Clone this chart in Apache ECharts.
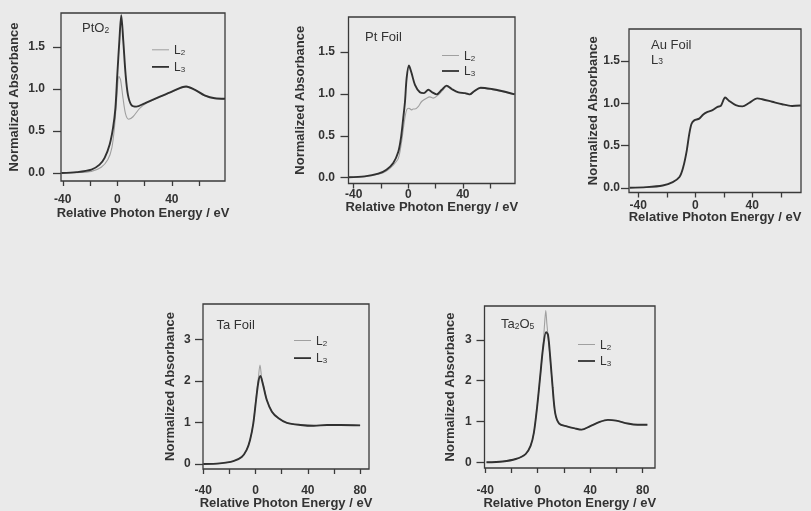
<!DOCTYPE html>
<html>
<head>
<meta charset="utf-8">
<script src="https://cdn.jsdelivr.net/npm/echarts@6/dist/echarts.min.js"></script>
<style>
html, body { margin: 0; padding: 0; background: #eaeaea; }
#chart { width: 811px; height: 511px; }
</style>
</head>
<body>
<div id="chart"></div>
<script>
// L-edge XANES spectra: [relative photon energy (eV), normalized absorbance]

const ptO2_L2 = [[-41,0.0],[-30,0.005],[-19,0.02],[-11.8,0.068],[-6.9,0.16],[-4,0.30],[-2.1,0.54],[-0.6,0.85],[1.2,1.15],[2.4,1.11],[4.2,0.89],[6.1,0.70],[8.3,0.64],[11.5,0.67],[16.4,0.77],[21.3,0.83],[30,0.895],[40,0.965],[50.5,1.025],[57,0.99],[64,0.92],[71.5,0.89],[79,0.88]];
const ptO2_L3 = [[-41,0.0],[-30,0.01],[-19,0.04],[-13,0.10],[-9.3,0.18],[-5.6,0.34],[-3.1,0.54],[-1.4,0.77],[0,1.17],[1.5,1.57],[2.9,1.88],[4.4,1.57],[6.1,1.17],[7.8,0.93],[10.3,0.81],[13.9,0.79],[20,0.83],[30,0.90],[40,0.97],[50.5,1.03],[57,0.99],[64,0.925],[71.5,0.89],[79,0.885]];

const ptFoil_L2 = [[-44,0.005],[-32,0.012],[-22,0.04],[-16,0.08],[-11,0.15],[-7.3,0.23],[-4.9,0.43],[-2.9,0.67],[-1.2,0.81],[0.5,0.83],[2.4,0.81],[3.5,0.82],[4.9,0.82],[7.3,0.85],[9.8,0.91],[13.4,0.95],[15.9,0.965],[18.3,0.95],[22,0.99],[25,1.04],[28.1,1.09],[31.8,1.055],[36.7,1.02],[41.6,1.005],[45,0.99],[48,1.025],[53,1.07],[61,1.055],[68.4,1.03],[78,0.99]];
const ptFoil_L3 = [[-44,0.005],[-32,0.015],[-22,0.047],[-16,0.095],[-11,0.175],[-7.3,0.31],[-5.4,0.47],[-3.7,0.71],[-2.4,0.91],[-1.2,1.19],[0.5,1.34],[2.4,1.25],[4.9,1.11],[8.5,1.02],[11.5,1.01],[14.7,1.05],[17.6,1.02],[20.8,0.995],[24.5,1.05],[28.1,1.10],[31.8,1.06],[36.7,1.02],[41.6,1.01],[45,0.995],[48,1.03],[53,1.075],[61,1.06],[68.4,1.035],[78,0.995]];

const auFoil_L3 = [[-46,0.004],[-34.4,0.01],[-22.8,0.03],[-15.8,0.07],[-11.1,0.13],[-8.4,0.25],[-6,0.44],[-4.2,0.64],[-2.6,0.76],[-0.7,0.80],[2.8,0.82],[5.6,0.87],[8.6,0.90],[12.1,0.92],[15.6,0.96],[17.9,0.97],[21,1.07],[23.8,1.03],[28.4,0.98],[33.1,0.965],[37.7,1.005],[43.5,1.06],[47,1.05],[54,1.02],[61,0.99],[67.9,0.97],[74,0.975]];

const taFoil_L2 = [[-40,0.0],[-27.3,0.016],[-17,0.07],[-10.6,0.17],[-6.8,0.34],[-4.2,0.58],[-1.7,0.99],[0.4,1.58],[2.0,2.02],[3.4,2.38],[4.8,2.05],[6.5,1.84],[8.6,1.55],[12.5,1.27],[17.6,1.10],[24,0.99],[34.3,0.94],[44.5,0.92],[54.8,0.94],[65,0.94],[80,0.93]];
const taFoil_L3 = [[-40,0.0],[-27.3,0.016],[-17,0.07],[-10.6,0.17],[-6.8,0.34],[-4.2,0.58],[-1.7,0.98],[0.4,1.54],[2.2,1.98],[3.7,2.12],[5.5,1.94],[8.6,1.54],[12.5,1.26],[17.6,1.10],[24,0.99],[34.3,0.94],[44.5,0.92],[54.8,0.94],[65,0.94],[80,0.93]];

const ta2O5_L2 = [[-39,0.0],[-26.7,0.02],[-16.7,0.08],[-9.2,0.20],[-5.4,0.40],[-2.9,0.72],[-0.4,1.36],[2.1,2.16],[4.1,2.85],[5.4,3.45],[6.2,3.72],[7.0,3.40],[8.2,3.0],[9.6,2.52],[11.4,1.82],[13.4,1.19],[16.4,0.95],[22.2,0.88],[28.4,0.83],[33.5,0.80],[39.7,0.88],[47.3,0.99],[53.5,1.04],[59.8,1.02],[68.6,0.95],[76.1,0.92],[83.6,0.92]];
const ta2O5_L3 = [[-39,0.0],[-26.7,0.02],[-16.7,0.08],[-9.2,0.20],[-5.4,0.40],[-2.9,0.72],[-0.4,1.36],[2.1,2.16],[4.1,2.80],[6.4,3.19],[7.9,3.12],[9.6,2.56],[11.4,1.84],[13.4,1.20],[16.4,0.95],[22.2,0.88],[28.4,0.83],[33.5,0.80],[39.7,0.88],[47.3,0.99],[53.5,1.04],[59.8,1.02],[68.6,0.95],[76.1,0.92],[83.6,0.92]];

// Axis ticks and labels
const xTicks = [-40, -20, 0, 20, 40, 60, 80];
const xLabels3 = [-40, 0, 40];
const xLabels4 = [-40, 0, 40, 80];
const yTicksPt = [0, 0.5, 1.0, 1.5];
const yTicksTa = [0, 1, 2, 3];

const FONT = '"Liberation Sans", Arial, Helvetica, sans-serif';
const INK = '#333333';
const L2_COLOR = '#a0a0a0';
const L3_COLOR = '#313131';

const subRich = {
  n: { fontSize: 13, fontFamily: FONT, color: INK, lineHeight: 15, verticalAlign: 'bottom' },
  s: { fontSize: 8.5, fontFamily: FONT, color: INK, lineHeight: 9, verticalAlign: 'bottom' }
};

const panels = [
  { name: 'PtO2', label: '{n|PtO}{s|2}', L2: ptO2_L2, L3: ptO2_L3,
    grid: { left: 61, top: 13, width: 164, height: 168 },
    x: [-41.3, 79], y: [-0.095, 1.905], yTicks: yTicksPt, xLabels: xLabels3, dec: 1,
    yNameGap: 40, yLabelMargin: 16, xLabelMargin: 13, xNameGap: 26,
    title: [82, 20], legend: [152, 44.8, 5.1] },
  { name: 'Pt Foil', label: '{n|Pt Foil}', L2: ptFoil_L2, L3: ptFoil_L3,
    grid: { left: 348.5, top: 17, width: 166.5, height: 166.5 },
    x: [-43.8, 78.2], y: [-0.07, 1.92], yTicks: yTicksPt, xLabels: xLabels3, dec: 1,
    yNameGap: 41.5, yLabelMargin: 13.5, xLabelMargin: 5.5, xNameGap: 17,
    title: [365, 28.5], legend: [442, 50.5, 3.5] },
  { name: 'Au Foil', label: '{n|Au Foil}\n{n|L}{s|3}', L2: null, L3: auFoil_L3,
    grid: { left: 629, top: 29, width: 172, height: 163.5 },
    x: [-46.5, 74.2], y: [-0.053, 1.88], yTicks: yTicksPt, xLabels: xLabels3, dec: 1,
    yNameGap: 29, yLabelMargin: 9, xLabelMargin: 7.5, xNameGap: 18.5,
    title: [651, 36.5], legend: null },
  { name: 'Ta Foil', label: '{n|Ta Foil}', L2: taFoil_L2, L3: taFoil_L3,
    grid: { left: 203, top: 304, width: 166, height: 165 },
    x: [-40.2, 86.8], y: [-0.12, 3.85], yTicks: yTicksTa, xLabels: xLabels4, dec: 0,
    yNameGap: 26, yLabelMargin: 12.3, xLabelMargin: 16, xNameGap: 27.5,
    title: [216.5, 316.5], legend: [294, 335.5, 5.6] },
  { name: 'Ta2O5', label: '{n|Ta}{s|2}{n|O}{s|5}', L2: ta2O5_L2, L3: ta2O5_L3,
    grid: { left: 484.5, top: 306, width: 170.5, height: 165.5 },
    x: [-40.5, 89.4], y: [-0.14, 3.83], yTicks: yTicksTa, xLabels: xLabels4, dec: 0,
    yNameGap: 27.5, yLabelMargin: 12.8, xLabelMargin: 16.5, xNameGap: 29,
    title: [501, 316], legend: [578, 339.5, 4.5] }
];

const option = {
  backgroundColor: '#eaeaea',
  animation: false,
  grid: [], xAxis: [], yAxis: [], series: [], title: [], legend: []
};

const axisNameStyle = { fontFamily: FONT, fontSize: 13, fontWeight: 'bold', color: INK };
const tickLabelStyle = { fontFamily: FONT, fontSize: 12, fontWeight: 'bold', color: INK };
const tickLine = { color: '#3a3a3a', width: 1.3 };

panels.forEach((p, i) => {
  option.grid.push(Object.assign({ show: true, borderColor: '#3a3a3a', borderWidth: 1.3, backgroundColor: 'transparent' }, p.grid));

  option.xAxis.push({
    type: 'value', gridIndex: i, min: p.x[0], max: p.x[1], position: 'bottom',
    name: 'Relative Photon Energy / eV', nameLocation: 'middle', nameGap: p.xNameGap,
    nameMoveOverlap: false,
    nameTextStyle: axisNameStyle,
    axisLine: { show: false, onZero: false },
    splitLine: { show: false },
    axisTick: { show: true, inside: false, length: 5, customValues: xTicks, lineStyle: tickLine },
    axisLabel: Object.assign({ show: true, margin: p.xLabelMargin, customValues: p.xLabels }, tickLabelStyle)
  });

  option.yAxis.push({
    type: 'value', gridIndex: i, min: p.y[0], max: p.y[1], position: 'left',
    name: 'Normalized Absorbance', nameLocation: 'middle', nameGap: p.yNameGap, nameRotate: 90,
    nameMoveOverlap: false,
    nameTextStyle: axisNameStyle,
    axisLine: { show: false, onZero: false },
    splitLine: { show: false },
    axisTick: { show: true, inside: false, length: 8, customValues: p.yTicks, lineStyle: tickLine },
    axisLabel: Object.assign({ show: true, margin: p.yLabelMargin, customValues: p.yTicks,
      formatter: v => Number(v).toFixed(p.dec) }, tickLabelStyle)
  });

  if (p.L2) {
    option.series.push({
      name: 'L2', type: 'line', xAxisIndex: i, yAxisIndex: i, data: p.L2,
      symbol: 'none', smooth: 0.3, silent: true,
      lineStyle: { color: L2_COLOR, width: 1.1 }, itemStyle: { color: L2_COLOR }
    });
  }
  option.series.push({
    name: 'L3', type: 'line', xAxisIndex: i, yAxisIndex: i, data: p.L3,
    symbol: 'none', smooth: 0.3, silent: true,
    lineStyle: { color: L3_COLOR, width: 1.9 }, itemStyle: { color: L3_COLOR }
  });

  option.title.push({
    text: p.label, left: p.title[0], top: p.title[1], padding: 0,
    textStyle: { fontFamily: FONT, fontSize: 13, fontWeight: 'normal', color: INK, lineHeight: 15, rich: subRich }
  });

  if (p.legend) {
    option.legend.push({
      orient: 'vertical', left: p.legend[0], top: p.legend[1], itemGap: p.legend[2],
      padding: 0, itemWidth: 17, itemHeight: 14, selectedMode: false, symbolKeepAspect: true,
      data: [
        { name: 'L2', icon: 'path://M0,0H20V1.2H0Z', itemStyle: { color: L2_COLOR } },
        { name: 'L3', icon: 'path://M0,0H20V2.1H0Z', itemStyle: { color: L3_COLOR } }
      ],
      formatter: name => name === 'L2' ? '{m|L}{s|2}' : '{m|L}{s|3}',
      textStyle: {
        fontFamily: FONT, color: INK,
        rich: {
          m: { fontSize: 12, fontFamily: FONT, color: INK, lineHeight: 14, verticalAlign: 'bottom' },
          s: { fontSize: 8, fontFamily: FONT, color: INK, lineHeight: 8, verticalAlign: 'bottom' }
        }
      }
    });
  }
});

const chart = echarts.init(document.getElementById('chart'), null, { renderer: 'canvas' });
chart.setOption(option);
</script>
</body>
</html>
